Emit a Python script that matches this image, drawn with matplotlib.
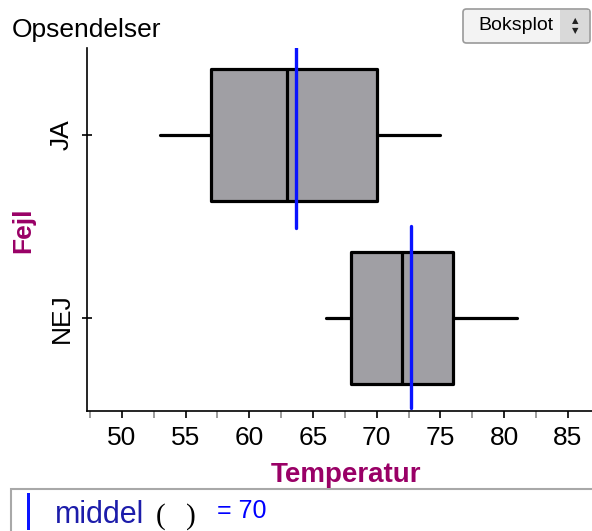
import matplotlib.pyplot as plt
from matplotlib.patches import Rectangle, FancyBboxPatch

plt.rcParams['font.family'] = ['Liberation Sans', 'DejaVu Sans']

# data
groups = ['NEJ', 'JA']
whis_lo = [66, 53]
q1 = [68, 57]
medians = [72, 63]
q3 = [76, 70]
whis_hi = [81, 75]
means = [72.7, 63.7]
overall_mean = 70

W, H = 592, 531


def fx(px):
    return px / W


def fy(py):
    return 1 - py / H


fig = plt.figure(figsize=(W / 100, H / 100), dpi=100)
ax = fig.add_axes([fx(87), fy(411), 1 - fx(87), fy(48) - fy(411)])

stats = []
for i in range(len(groups)):
    stats.append({'whislo': whis_lo[i], 'q1': q1[i], 'med': medians[i],
                  'q3': q3[i], 'whishi': whis_hi[i], 'fliers': []})

pos = list(range(len(groups)))
ax.bxp(stats, positions=pos, orientation='horizontal', widths=0.72,
       patch_artist=True, showcaps=False, showfliers=False,
       boxprops=dict(facecolor='#a09fa4', edgecolor='black', linewidth=2.3,
                     joinstyle='round'),
       medianprops=dict(color='black', linewidth=2.3),
       whiskerprops=dict(color='black', linewidth=2.3, solid_capstyle='round'))

# mean lines, each spanning its own band
for p, m in zip(pos, means):
    lo = p - 0.49 if p == 0 else p - 0.51
    ax.plot([m, m], [lo, p + 0.5], color='#0a14ff', linewidth=2.4,
            solid_capstyle='round', zorder=5)

ax.set_xlim(47.27, 86.9)
ax.set_ylim(-0.508, 1.475)

ax.set_xticks(range(50, 90, 5))
ax.set_xticks([47.5 + 5 * k for k in range(8)], minor=True)
ax.tick_params(axis='x', which='major', direction='out', length=5, width=1.2,
               labelsize=19, pad=6)
ax.tick_params(axis='x', which='minor', direction='out', length=5, width=1.2,
               color='#8c8c8c')
ax.set_yticks(pos)
ax.set_yticklabels(groups, rotation=90, va='center', fontsize=19)
ax.tick_params(axis='y', direction='inout', length=7, width=1.2, pad=6)

for s in ['top', 'right']:
    ax.spines[s].set_visible(False)
for s in ['left', 'bottom']:
    ax.spines[s].set_linewidth(1.2)

# axis titles
fig.text(fx(346), fy(482), 'Temperatur', ha='center', va='baseline',
         fontsize=20, fontweight='bold', color='#990066')
fig.text(fx(23), fy(230), 'Fejl', ha='center', va='center', rotation=90,
         fontsize=19, fontweight='bold', color='#990066')
fig.text(fx(12), fy(37), 'Opsendelser', ha='left', va='baseline', fontsize=19)

# dropdown button
btn = FancyBboxPatch((fx(463), fy(43)), fx(590) - fx(463), fy(9) - fy(43),
                     boxstyle='round,pad=0,rounding_size=0.006',
                     transform=fig.transFigure, facecolor='#f3f3f3',
                     edgecolor='#9a9a9a', linewidth=1.2)
fig.add_artist(btn)
fig.add_artist(Rectangle((fx(560), fy(42)), fx(589) - fx(560), fy(10) - fy(42),
                         transform=fig.transFigure, facecolor='#d9d9d9',
                         edgecolor='none'))
fig.text(fx(516), fy(26), 'Boksplot', ha='center', va='center', fontsize=14)
fig.text(fx(575), fy(21), '▲', ha='center', va='center', fontsize=6,
         family='DejaVu Sans', color='#222222')
fig.text(fx(575), fy(31), '▼', ha='center', va='center', fontsize=6,
         family='DejaVu Sans', color='#222222')

# mean readout panel
fig.add_artist(Rectangle((fx(11), fy(540)), fx(600) - fx(11), fy(489) - fy(540),
                         transform=fig.transFigure, facecolor='white',
                         edgecolor='#a8a8a8', linewidth=1.5))
fig.add_artist(Rectangle((fx(27), fy(530)), fx(30) - fx(27), fy(493) - fy(530),
                         transform=fig.transFigure, facecolor='#0a14ff',
                         edgecolor='none'))
fig.text(fx(55), fy(523), 'middel', ha='left', va='baseline', fontsize=22,
         color='#1c1caa')
fig.text(fx(156), fy(524), '(', ha='left', va='baseline', fontsize=21,
         family='Liberation Serif')
fig.text(fx(186), fy(524), ')', ha='left', va='baseline', fontsize=21,
         family='Liberation Serif')
fig.text(fx(217), fy(518), '= ' + str(overall_mean), ha='left',
         va='baseline', fontsize=18, color='#0000ff')

fig.savefig('out.png', dpi=100)
